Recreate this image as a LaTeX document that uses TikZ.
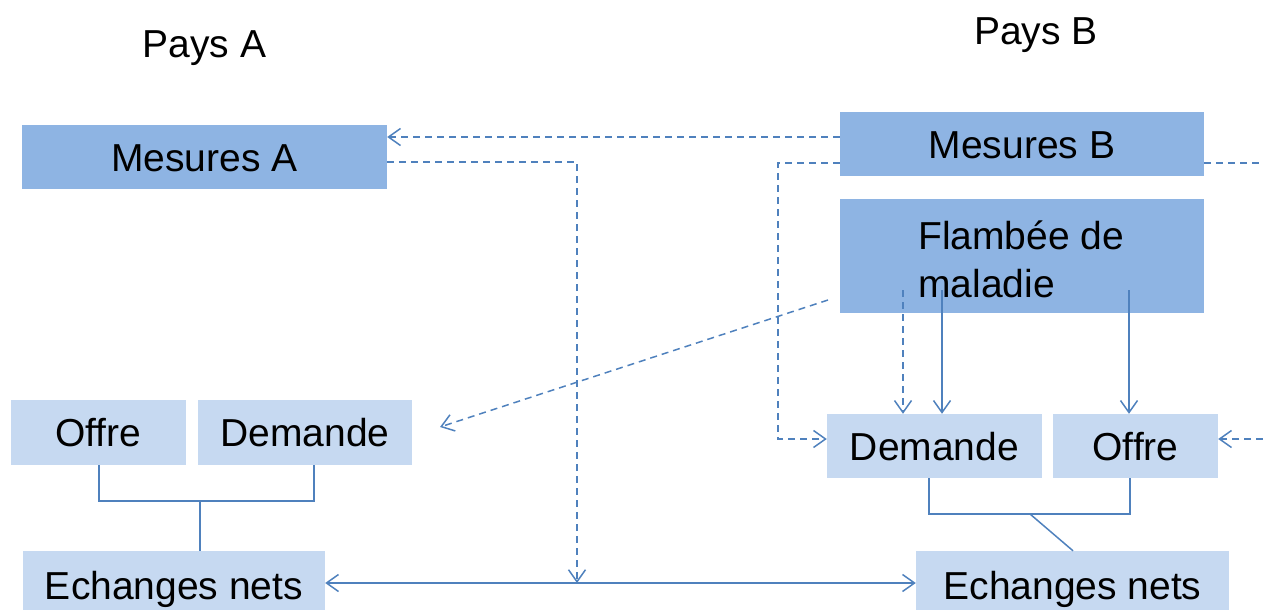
\documentclass[tikz,border=0pt]{standalone}
\usepackage{fontspec}
\setmainfont{Liberation Sans}
\usetikzlibrary{arrows.meta}
\definecolor{darkbox}{HTML}{8EB4E3}
\definecolor{lightbox}{HTML}{C6D9F1}
\definecolor{linecol}{HTML}{4F81BD}
\tikzset{
  txt/.style={font=\fontsize{39}{47}\selectfont, inner sep=0pt, text height=28pt, text depth=0pt},
  dbox/.style={txt, fill=darkbox},
  lbox/.style={txt, fill=lightbox},
  ttl/.style={font=\fontsize{39}{47}\selectfont, inner sep=0pt, anchor=base},
  conn/.style={draw=linecol, line width=1.5pt},
  dconn/.style={conn, dash pattern=on 7pt off 5pt},
  tip/.style={-{Straight Barb[length=12pt,width=17pt]}},
  tips/.style={{Straight Barb[length=12pt,width=17pt]}-{Straight Barb[length=12pt,width=17pt]}}
}
\begin{document}
\begin{tikzpicture}[x=1pt,y=-1pt]
\useasboundingbox (0,0) rectangle (1263,610);
% titles
\node[ttl] (pA) at (204.5,58) {Pays A};
\node[ttl] (pB) at (1036,45) {Pays B};
% boxes
\node[dbox, minimum width=365pt, minimum height=64pt] (mA) at (204.5,157) {Mesures A};
\node[dbox, minimum width=364pt, minimum height=64pt] (mB) at (1022,144) {Mesures B};
\node[dbox, minimum width=364pt, minimum height=114pt] (fl) at (1022,256) {};
\node[ttl, anchor=base west] (fl1) at (918,249) {Flambée de};
\node[ttl, anchor=base west] (fl2) at (918,297) {maladie};
\node[lbox, minimum width=175pt, minimum height=65pt] (oA) at (98.5,432.5) {Offre};
\node[lbox, minimum width=214pt, minimum height=65pt] (dA) at (305,432.5) {Demande};
\node[lbox, minimum width=215pt, minimum height=64pt] (dB) at (934.5,446) {Demande};
\node[lbox, minimum width=165pt, minimum height=64pt] (oB) at (1135.5,446) {Offre};
\node[lbox, minimum width=302pt, minimum height=68pt] (eA) at (174,585) {Echanges nets};
\node[lbox, minimum width=313pt, minimum height=68pt] (eB) at (1072.5,585) {Echanges nets};
% free ends
\coordinate (j) at (577,583);
\coordinate (rt) at (1263,163);
\coordinate (rb) at (1263,439);
\coordinate (fs) at (828,300);
\coordinate (fe) at (440,427);
% dashed connectors
\draw[dconn, tip] (mB.west |- 0,137) -- (mA.east |- 0,137);
\draw[dconn, tip] (mA.east |- 0,162) -- (577,162) -- (j);
\draw[dconn, tip] (mB.west |- 0,163) -- (778,163) -- (778,439) -- (dB.west |- 0,439);
\draw[dconn] (mB.east |- 0,163) -- (rt);
\draw[dconn, tip] (rb) -- (oB.east |- 0,439);
\draw[dconn, tip] (fs) -- (fe);
\draw[dconn, tip] (903,290) -- (dB.north -| 903,0);
% solid connectors
\draw[conn, tip] (942,290) -- (dB.north -| 942,0);
\draw[conn, tip] (1129,290) -- (oB.north -| 1129,0);
\draw[conn, tips] (eA.east |- 0,583) -- (eB.west |- 0,583);
\draw[conn] (oA.south -| 99,0) -- (99,501) -- (314,501) -- (dA.south -| 314,0);
\draw[conn] (200,501) -- (eA.north -| 200,0);
\draw[conn] (dB.south -| 929,0) -- (929,514) -- (1130,514) -- (oB.south -| 1130,0);
\draw[conn] (1030,514) -- (eB.north -| 1073,0);
\end{tikzpicture}
\end{document}
